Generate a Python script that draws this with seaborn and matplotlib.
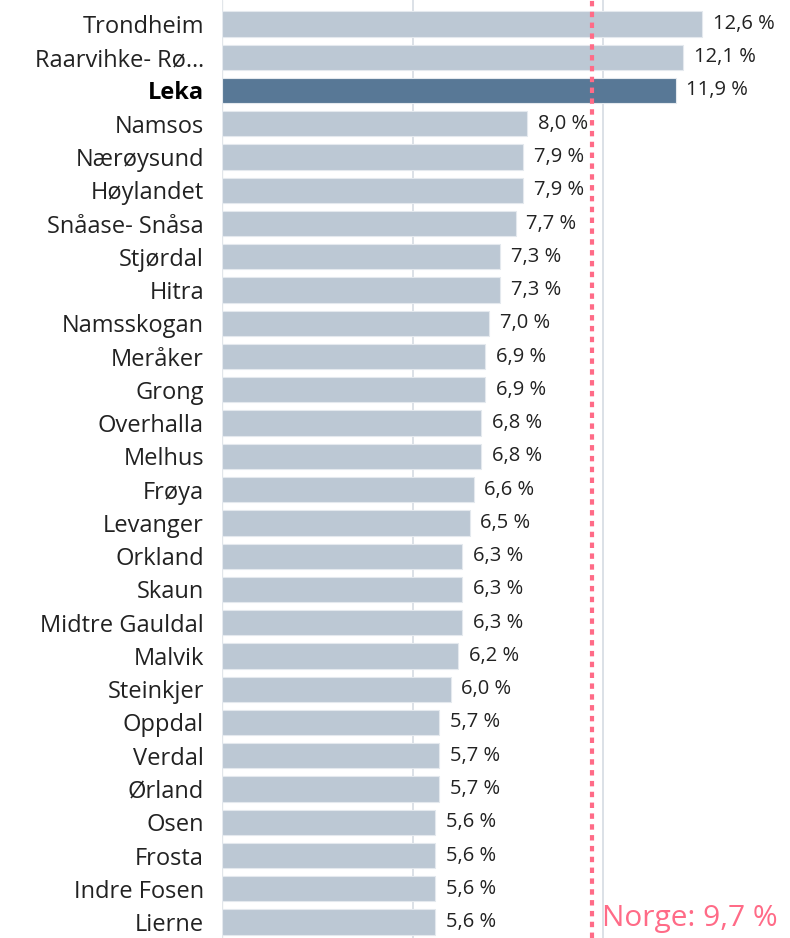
import matplotlib
matplotlib.use("Agg")
import matplotlib.pyplot as plt
import seaborn as sns
import pandas as pd

kommuner = ["Trondheim", "Raarvihke- Rø…", "Leka", "Namsos", "Nærøysund", "Høylandet",
            "Snåase- Snåsa", "Stjørdal", "Hitra", "Namsskogan", "Meråker", "Grong",
            "Overhalla", "Melhus", "Frøya", "Levanger", "Orkland", "Skaun",
            "Midtre Gauldal", "Malvik", "Steinkjer", "Oppdal", "Verdal", "Ørland",
            "Osen", "Frosta", "Indre Fosen", "Lierne"]
andel = [12.6, 12.1, 11.9, 8.0, 7.9, 7.9, 7.7, 7.3, 7.3, 7.0, 6.9, 6.9, 6.8, 6.8,
         6.6, 6.5, 6.3, 6.3, 6.3, 6.2, 6.0, 5.7, 5.7, 5.7, 5.6, 5.6, 5.6, 5.6]
valgt = "Leka"
norge = 9.7
grid_ticks = [5, 10]

sns.set_theme(style="white")
plt.rcParams['font.family'] = ['Open Sans', 'DejaVu Sans']

df = pd.DataFrame({"kommune": kommuner, "andel": andel})
df["gruppe"] = ["valgt" if k == valgt else "andre" for k in kommuner]

fig = plt.figure(figsize=(7.9, 9.38), dpi=100)
ax = fig.add_axes([222/790, 0, 1 - 222/790, 1])

for g in grid_ticks:
    ax.axvline(g, color="#D6DCE3", lw=1.2, zorder=0)

sns.barplot(data=df, y="kommune", x="andel", hue="gruppe",
            palette={"valgt": "#587896", "andre": "#BCC8D4"}, saturation=1,
            orient="h", width=0.76, dodge=False, legend=False, ax=ax,
            edgecolor="#E4E9EE", linewidth=0.8, zorder=2)

ax.axvline(norge, color="#FF6B87", lw=3, ls=(0, (1.3, 1.3)), zorder=3)

for i, v in enumerate(andel):
    ax.text(v + 0.28, i, f"{v:.1f} %".replace(".", ","), va="center", ha="left",
            fontsize=14.5, color="#222222", zorder=4)

ax.text(norge + 0.28, 27.12, f"Norge: {norge:.1f} %".replace(".", ","), color="#FF6B87",
        fontsize=21.5, va="baseline", ha="left", zorder=4)

ax.set_xlim(0, 14.9)
ax.set_ylim(27.48, -0.72)
ax.set_xlabel("")
ax.set_ylabel("")
ax.set_xticks([])
ax.tick_params(axis="y", length=0, pad=13, labelsize=17, labelcolor="#222222")
for lab in ax.get_yticklabels():
    if lab.get_text() == valgt:
        lab.set_fontweight("bold")
        lab.set_color("#000000")
for s in ax.spines.values():
    s.set_visible(False)
ax.axvline(0, color="#E2E6EA", lw=1, zorder=1)

fig.savefig("out.png", dpi=100)
